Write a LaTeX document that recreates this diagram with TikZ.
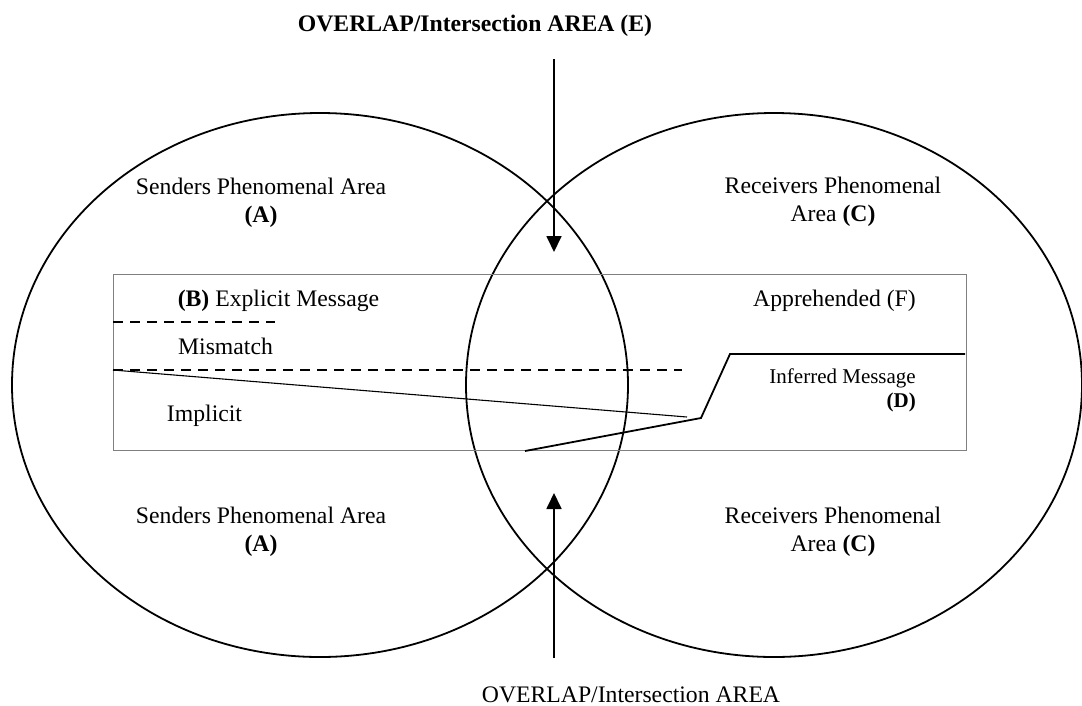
\documentclass[tikz,border=0pt]{standalone}
\usepackage{fontspec}
\setmainfont{Liberation Serif}
\usetikzlibrary{shapes.geometric,arrows.meta}
\begin{document}
\begin{tikzpicture}[x=1pt,y=-1pt,
  area/.style={draw=black,line width=1.8pt,ellipse,inner sep=0pt,
    minimum width=616pt,minimum height=544pt},
  lbl/.style={font=\fontsize{23.7}{28}\selectfont,inner sep=0pt,align=center,anchor=base},
  smalllbl/.style={font=\fontsize{21}{24}\selectfont,inner sep=0pt,align=right,anchor=base east},
  frame/.style={draw=gray,line width=1pt,inner sep=0pt,anchor=north west,
    minimum width=853pt,minimum height=176pt},
  sep/.style={dash pattern=on 10pt off 7pt,line width=1.3pt},
  thinline/.style={line width=1.1pt},
  boundary/.style={line width=1.8pt,line join=miter},
  pointer/.style={line width=1.8pt,-{Triangle[width=15pt,length=16pt]}}
]
\useasboundingbox (0,0) rectangle (1082,705);

% the two phenomenal areas
\node[area] (senders) at (320,385) {};
\node[area] (receivers) at (774,385) {};

% message band
\node[frame] (band) at (113,274) {};

% separators inside the band
\coordinate (d1a) at (113,322);
\coordinate (d1b) at (275,322);
\coordinate (d2a) at (113,370);
\coordinate (d2b) at (682,370);
\draw[sep] (d1a) -- (d1b);
\draw[sep] (d2a) -- (d2b);

\coordinate (imEnd) at (687,417);
\draw[thinline] (d2a) -- (imEnd);

\coordinate (b0) at (525,451);
\coordinate (b1) at (701,418);
\coordinate (b2) at (730,354);
\coordinate (b3) at (965,354);
\draw[boundary] (b0) -- (b1) -- (b2) -- (b3);

% overlap pointers
\coordinate (topStart) at (554,59);
\coordinate (topTip) at (554,252);
\coordinate (botStart) at (554,658);
\coordinate (botTip) at (554,493);
\draw[pointer] (topStart) -- (topTip);
\draw[pointer] (botStart) -- (botTip);

% labels (two-line labels are placed by the baseline of their last line)
\node[lbl] (titleTop) at (475,31) {\textbf{OVERLAP/Intersection AREA (E)}};
\node[lbl] (titleBot) at (631,702) {OVERLAP/Intersection AREA};

\node[lbl] (sendA1) at (261,222) {Senders Phenomenal Area\\\textbf{(A)}};
\node[lbl] (sendA2) at (261,551) {Senders Phenomenal Area\\\textbf{(A)}};
\node[lbl] (recvC1) at (833,221) {Receivers Phenomenal\\Area \textbf{(C)}};
\node[lbl] (recvC2) at (833,551) {Receivers Phenomenal\\Area \textbf{(C)}};

\node[lbl] (explicit) at (278.5,306) {\textbf{(B)} Explicit Message};
\node[lbl] (mismatch) at (225.5,354) {Mismatch};
\node[lbl] (implicit) at (204.5,421) {Implicit};
\node[lbl] (apprehended) at (834.5,306) {Apprehended (F)};
\node[smalllbl] (inferred) at (916,407) {Inferred Message\\\textbf{(D)}};
\end{tikzpicture}
\end{document}
